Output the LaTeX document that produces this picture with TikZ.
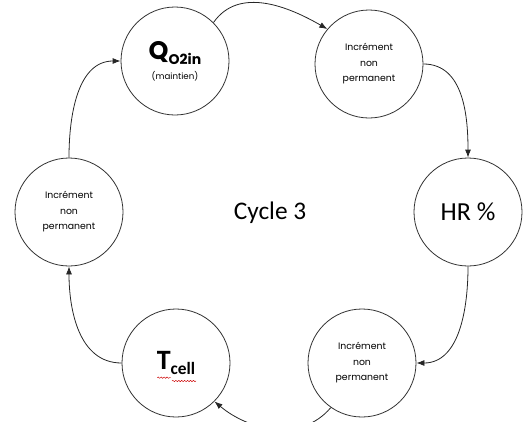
\documentclass[tikz,border=0pt]{standalone}
\usepackage{fontspec}
\setmainfont{Carlito}
\newfontfamily\gothic{Poppins}
\usetikzlibrary{arrows.meta,decorations.pathmorphing}

\begin{document}
\begin{tikzpicture}[x=0.75pt,y=-0.75pt,n/.style={circle,draw=black!80,line width=0.6pt,minimum size=81pt,inner sep=0pt,align=center},a/.style={-{Latex[length=6pt,width=4.5pt]},line width=0.6pt,black!85},incr/.style={n,font=\gothic\fontsize{7}{11.6}\selectfont},wavy/.style={red!80!black,line width=0.35pt,decorate,decoration={snake,amplitude=0.5pt,segment length=2.2pt}}]
\useasboundingbox (0,0) rectangle (531,421);
\node[n](q) at (175,61){{\gothic\bfseries\fontsize{19}{21}\selectfont Q\raisebox{-3.8pt}{\fontsize{10.5}{12}\selectfont O2in}}\\[3pt]{\gothic\fontsize{6.5}{8}\selectfont (maintien)}};
\node[incr](inc1) at (369,64){Incrément\\non\\permanent};
\node[n,font=\fontsize{19.5}{22}\selectfont](hr) at (468,212){HR \%};
\node[incr](inc2) at (362,363){Incrément\\non\\permanent};
\node[n](tc) at (176,363){\bfseries\fontsize{21}{22}\selectfont T\raisebox{-3.8pt}{\fontsize{13}{15}\selectfont cell}};
\node[incr](inc3) at (69,212){Incrément\\non\\permanent};
\node[font=\fontsize{19}{22}\selectfont](cyc) at (270,213){Cycle 3};
% spell check marks under the label
\draw[wavy] ([xshift=-14pt,yshift=-11pt]tc.center) -- ([xshift=-4pt,yshift=-11pt]tc.center);
\draw[wavy] ([xshift=-3pt,yshift=-13.5pt]tc.center) -- ([xshift=15pt,yshift=-13.5pt]tc.center);
\draw[a](inc3.north) to[out=90,in=180] (q.west);
\draw[a](q.45) to[out=55,in=150] (inc1.140);
\draw[a](inc1.east) to[out=0,in=90] (hr.north);
\draw[a](hr.south) to[out=-90,in=0] (inc2.east);
\draw[a](inc2.235) to[out=-130,in=-40] (tc.-45);
\draw[a](tc.west) to[out=180,in=-90] (inc3.south);
\end{tikzpicture}
\end{document}
